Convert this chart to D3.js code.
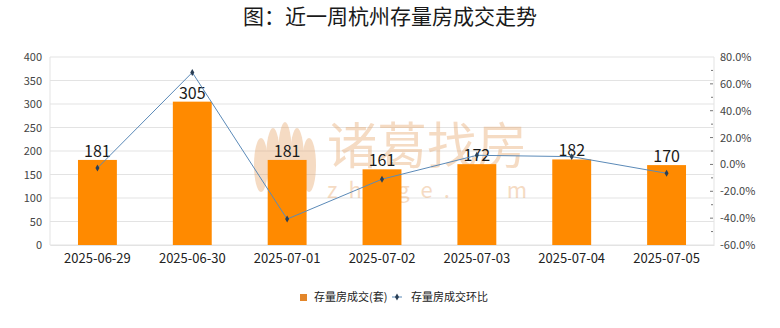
<!DOCTYPE html>
<html>
<head>
<meta charset="utf-8">
<script src="https://cdn.jsdelivr.net/npm/d3@7/dist/d3.min.js"></script>
<style>
  html, body { margin: 0; padding: 0; background: #fff; }
  svg { display: block; }
</style>
</head>
<body>
<div id="chart"></div>
<script>
// Weekly second-hand housing transactions in Hangzhou
const categories = ["2025-06-29", "2025-06-30", "2025-07-01", "2025-07-02", "2025-07-03", "2025-07-04", "2025-07-05"];
const deals = [181, 305, 181, 161, 172, 182, 170];
const changePct = [-2.7, 68.5, -40.7, -11.0, 6.8, 5.8, -6.6];
const leftTicks = [0, 50, 100, 150, 200, 250, 300, 350, 400];
const rightTicks = [-60, -40, -20, 0, 20, 40, 60, 80];
const rightMinorTicks = [-50, -30, -10, 10, 30, 50, 70];

const W = 780, H = 328;
const plot = { left: 50, right: 714, top: 57, bottom: 245 };
const font = "'Noto Sans CJK SC', 'Noto Sans', sans-serif";

const svg = d3.select("#chart").append("svg")
  .attr("width", W).attr("height", H)
  .style("font-family", font);

// Title
svg.append("text")
  .attr("x", W / 2).attr("y", 24)
  .attr("text-anchor", "middle")
  .attr("font-size", 21)
  .attr("font-weight", 400)
  .attr("fill", "#1a1a1a")
  .text("图：近一周杭州存量房成交走势");

const x = d3.scaleBand()
  .domain(categories)
  .range([plot.left, plot.right])
  .paddingInner(0.59)
  .paddingOuter(0.295);

const yL = d3.scaleLinear().domain([0, 400]).range([plot.bottom, plot.top]);
const yR = d3.scaleLinear().domain([-60, 80]).range([plot.bottom, plot.top]);

// Gridlines
svg.append("g")
  .selectAll("line")
  .data(leftTicks)
  .join("line")
  .attr("x1", plot.left).attr("x2", plot.right)
  .attr("y1", d => yL(d)).attr("y2", d => yL(d))
  .attr("stroke", "#e3e3e3").attr("stroke-width", 1);

// Plot frame sides
svg.append("line")
  .attr("x1", plot.left).attr("x2", plot.left)
  .attr("y1", plot.top).attr("y2", plot.bottom)
  .attr("stroke", "#e3e3e3");
svg.append("line")
  .attr("x1", plot.right).attr("x2", plot.right)
  .attr("y1", plot.top).attr("y2", plot.bottom)
  .attr("stroke", "#e3e3e3");

// Watermark (brand logo and name)
const wm = svg.append("g").attr("opacity", 0.4);
const petals = [
  { cx: 261, cy: 165, rx: 7, ry: 27 },
  { cx: 273, cy: 160, rx: 7, ry: 32 },
  { cx: 285, cy: 157, rx: 7, ry: 35 },
  { cx: 297, cy: 160, rx: 7, ry: 32 },
  { cx: 309, cy: 165, rx: 7, ry: 27 }
];
wm.selectAll("ellipse")
  .data(petals)
  .join("ellipse")
  .attr("cx", d => d.cx).attr("cy", d => d.cy)
  .attr("rx", d => d.rx).attr("ry", d => d.ry)
  .attr("fill", "#e7a66b");
wm.append("text")
  .attr("x", 327).attr("y", 164)
  .attr("font-size", 50)
  .attr("textLength", 200)
  .attr("fill", "#e7a66b")
  .text("诸葛找房");
wm.append("text")
  .attr("x", 327).attr("y", 198)
  .attr("font-size", 22)
  .attr("textLength", 200)
  .attr("lengthAdjust", "spacing")
  .attr("fill", "#e7a66b")
  .text("zhuge.com");

// Bars
svg.append("g")
  .selectAll("rect")
  .data(deals)
  .join("rect")
  .attr("x", (d, i) => x(categories[i]))
  .attr("y", d => yL(d))
  .attr("width", x.bandwidth())
  .attr("height", d => yL(0) - yL(d))
  .attr("fill", "#ff8a00");

// Bar value labels
svg.append("g")
  .selectAll("text")
  .data(deals)
  .join("text")
  .attr("x", (d, i) => x(categories[i]) + x.bandwidth() / 2)
  .attr("y", d => yL(d) - 3)
  .attr("text-anchor", "middle")
  .attr("font-size", 16)
  .attr("fill", "#1a1a1a")
  .text(d => d);

// Change line
const cx = i => x(categories[i]) + x.bandwidth() / 2;
const line = d3.line()
  .x((d, i) => cx(i))
  .y(d => yR(d));
svg.append("path")
  .datum(changePct)
  .attr("d", line)
  .attr("fill", "none")
  .attr("stroke", "#5b8ab8")
  .attr("stroke-width", 1);

const diamond = d3.symbol().type(d3.symbolDiamond).size(14);
svg.append("g")
  .selectAll("path")
  .data(changePct)
  .join("path")
  .attr("d", diamond)
  .attr("transform", (d, i) => `translate(${cx(i)},${yR(d)})`)
  .attr("fill", "#2a3f55");

// Left axis
const leftAxis = d3.axisLeft(yL).tickValues(leftTicks).tickSize(0).tickPadding(8);
const gL = svg.append("g")
  .attr("transform", `translate(${plot.left},0)`)
  .call(leftAxis);
gL.select(".domain").remove();
gL.selectAll("text")
  .attr("font-size", 11)
  .attr("font-family", font)
  .attr("fill", "#444");

// Right axis
const pctFmt = d => d.toFixed(1) + "%";
const rightAxis = d3.axisRight(yR).tickValues(rightTicks).tickSize(0).tickPadding(6).tickFormat(pctFmt);
const gR = svg.append("g")
  .attr("transform", `translate(${plot.right},0)`)
  .call(rightAxis);
gR.select(".domain").remove();
gR.selectAll("text")
  .attr("font-size", 11)
  .attr("font-family", font)
  .attr("fill", "#444");
// Major and minor tick marks
svg.append("g")
  .selectAll("line")
  .data(rightTicks.filter(d => d > -60 && d < 80))
  .join("line")
  .attr("x1", plot.right - 4).attr("x2", plot.right - 1)
  .attr("y1", d => yR(d)).attr("y2", d => yR(d))
  .attr("stroke", "#777");
svg.append("g")
  .selectAll("line")
  .data(rightMinorTicks)
  .join("line")
  .attr("x1", plot.right - 3).attr("x2", plot.right - 1)
  .attr("y1", d => yR(d)).attr("y2", d => yR(d))
  .attr("stroke", "#777");

// Bottom axis labels
const bottomAxis = d3.axisBottom(x).tickSize(0).tickPadding(9);
const gB = svg.append("g")
  .attr("transform", `translate(0,${plot.bottom})`)
  .call(bottomAxis);
gB.select(".domain").attr("stroke", "#e3e3e3");
gB.selectAll("text")
  .attr("font-size", 13)
  .attr("font-family", font)
  .attr("fill", "#222");

// Legend
const lg = svg.append("g").attr("font-size", 11).attr("fill", "#222");
lg.append("rect")
  .attr("x", 300).attr("y", 294).attr("width", 7).attr("height", 7)
  .attr("fill", "#e3862a");
lg.append("text").attr("x", 314).attr("y", 301).text("存量房成交(套)");
lg.append("line")
  .attr("x1", 392).attr("x2", 402).attr("y1", 297).attr("y2", 297)
  .attr("stroke", "#5b8ab8");
lg.append("path")
  .attr("d", diamond)
  .attr("transform", "translate(397,297)")
  .attr("fill", "#2a3f55");
lg.append("text").attr("x", 411).attr("y", 301).text("存量房成交环比");
</script>
</body>
</html>
